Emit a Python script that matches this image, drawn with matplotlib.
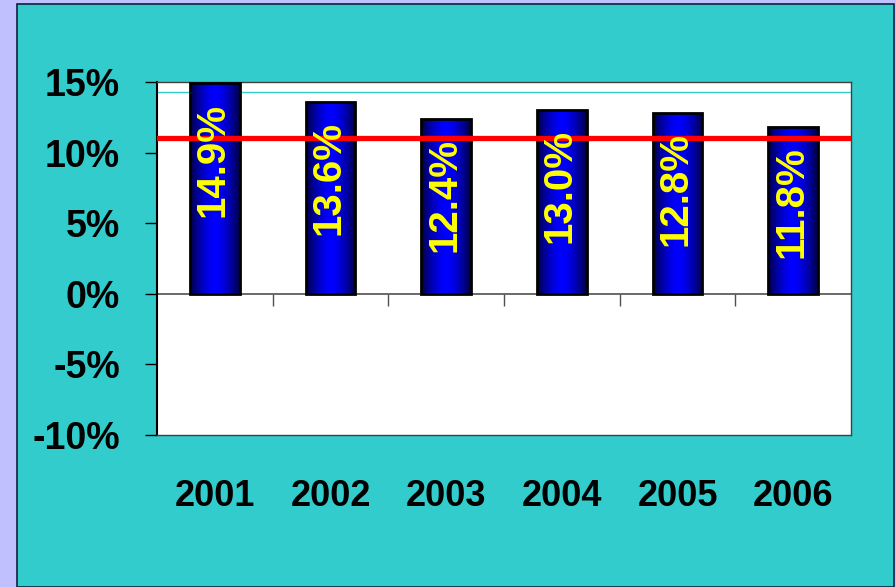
import numpy as np
import matplotlib.pyplot as plt
from matplotlib.patches import Rectangle
from matplotlib.ticker import PercentFormatter

plt.rcParams['axes.unicode_minus'] = False

# chart data
years = ['2001', '2002', '2003', '2004', '2005', '2006']
values = [0.149, 0.136, 0.124, 0.130, 0.128, 0.118]
bar_labels = ['14.9%', '13.6%', '12.4%', '13.0%', '12.8%', '11.8%']
target_line = 0.11      # thick red line
upper_line = 0.143      # thin cyan line
y_ticks = [-0.10, -0.05, 0.0, 0.05, 0.10, 0.15]

teal = '#33CCCC'
lavender = '#C0C0FF'
font = ['Liberation Sans', 'DejaVu Sans']
label_font = ['Liberation Sans Narrow', 'Liberation Sans', 'DejaVu Sans']

fig = plt.figure(figsize=(8.96, 5.87), dpi=100)
fig.patch.set_facecolor(lavender)

# teal slide panel, kept behind the axes
fig.patches.append(Rectangle((17 / 896, 0), (894 - 17) / 896, (587 - 4) / 587,
                             transform=fig.transFigure, facecolor=teal,
                             edgecolor='#102040', linewidth=1.2, zorder=-10))

ax = fig.add_axes([157 / 896, 152 / 587, 694 / 896, 353 / 587])
ax.set_facecolor('white')

x = np.arange(len(years))
bar_w = 0.43
bars = ax.bar(x, values, width=bar_w, facecolor='none', edgecolor='black',
              linewidth=2, zorder=3)

# horizontal shading inside each bar: dark edges, bright blue centre
grad = np.linspace(-1, 1, 200)
shade = 1 - np.abs(grad) ** 1.6
cols = np.zeros((1, 200, 3))
cols[0, :, 2] = 0.25 + 0.75 * shade
for b in bars:
    im = ax.imshow(cols, extent=(b.get_x(), b.get_x() + b.get_width(), 0, b.get_height()),
                   aspect='auto', zorder=2, interpolation='bilinear')
    im.set_clip_path(b)

ax.axhline(upper_line, color=teal, linewidth=1, zorder=1)
ax.axhline(target_line, color='red', linewidth=3.8, zorder=4)

for xi, v, lab in zip(x, values, bar_labels):
    ax.annotate(lab, (xi, v), xytext=(-2, -19), textcoords='offset pixels',
                rotation=90, ha='center', va='top', color='yellow',
                fontsize=29, fontweight='bold', family=label_font, zorder=5)

ax.set_xlim(-0.5, len(years) - 0.5)
ax.set_ylim(-0.10, 0.15)
ax.set_yticks(y_ticks)
ax.yaxis.set_major_formatter(PercentFormatter(1.0, decimals=0))
ax.tick_params(axis='y', direction='out', length=8.5, width=1, color='black', pad=18)
ax.set_xticks(x)
ax.set_xticklabels(years)
ax.tick_params(axis='x', length=0, pad=32)
for lab in ax.get_xticklabels():
    lab.set_fontsize(26)
    lab.set_fontweight('bold')
    lab.set_family(font)
for lab in ax.get_yticklabels():
    lab.set_fontsize(27)
    lab.set_fontweight('bold')
    lab.set_family(font)

for side in ['top', 'right', 'bottom']:
    ax.spines[side].set_color('#404040')
    ax.spines[side].set_linewidth(1)
ax.spines['left'].set_color('black')
ax.spines['left'].set_linewidth(1.5)

# zero line with category separators hanging below
zero = ax.secondary_xaxis(0.4)
zero.set_xticks(x[:-1] + 0.5)
zero.tick_params(direction='out', length=8.5, width=1, color='#505050', labelbottom=False)
zero.spines['bottom'].set_color('#505050')
zero.spines['bottom'].set_linewidth(1.2)

fig.savefig('out.png', dpi=100, facecolor=fig.get_facecolor())
